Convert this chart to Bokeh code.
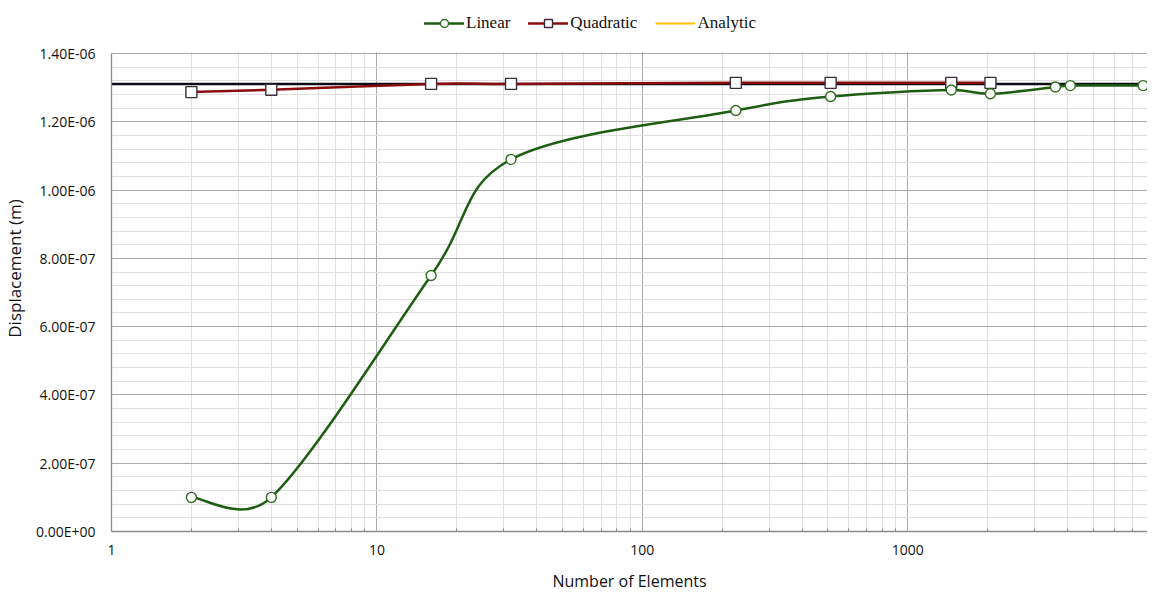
import math
from bokeh.plotting import figure
from bokeh.models import (FixedTicker, CustomJSTickFormatter, Legend, LegendItem,
                          Range1d, ColumnDataSource, BoxAnnotation)
from bokeh.embed import file_html
from bokeh.resources import INLINE

# ---------------- data ----------------
elements = [2, 4, 16, 32, 225, 512, 1458, 2048, 3600, 4096, 7700]
linear = [1.00e-7, 1.00e-7, 7.50e-7, 1.090e-6, 1.233e-6, 1.274e-6,
          1.293e-6, 1.282e-6, 1.302e-6, 1.306e-6, 1.306e-6]
quad_elements = [2, 4, 16, 32, 225, 512, 1458, 2048]
quadratic = [1.287e-6, 1.294e-6, 1.311e-6, 1.311e-6, 1.314e-6, 1.314e-6,
             1.314e-6, 1.314e-6]
analytic_x = [1, 8000]
analytic = [1.311e-6, 1.311e-6]

x_ticks = [1, 10, 100, 1000]
x_minor = [m * d for d in (1, 10, 100, 1000) for m in range(2, 10) if m * d < 8000]
y_ticks = [0, 2e-7, 4e-7, 6e-7, 8e-7, 1.0e-6, 1.2e-6, 1.4e-6]
y_minor = [k * 4e-8 for k in range(0, 36)]

X_RANGE = (1, 8000)
Y_RANGE = (0, 1.4e-6)          # axis extent
FW, FH = 1036, 478             # frame size for the axis extent
TOP_PX = 48                    # extra room above the axis for the legend
Y_TOP = Y_RANGE[1] + TOP_PX * (Y_RANGE[1] - Y_RANGE[0]) / FH


def smooth(xs, ys):
    """Excel-like smoothed line as cubic bezier segments."""
    l0 = math.log10(X_RANGE[0])
    lr = math.log10(X_RANGE[1]) - l0
    sx = [(math.log10(v) - l0) / lr * FW for v in xs]
    sy = [(v - Y_RANGE[0]) / (Y_RANGE[1] - Y_RANGE[0]) * FH for v in ys]
    n = len(xs)

    def tan(i):
        a = max(i - 1, 0)
        b = min(i + 1, n - 1)
        return sx[b] - sx[a], sy[b] - sy[a]

    out = dict(x0=[], y0=[], x1=[], y1=[], cx0=[], cy0=[], cx1=[], cy1=[])

    def back(px, py):
        return 10 ** (l0 + px / FW * lr), Y_RANGE[0] + py / FH * (Y_RANGE[1] - Y_RANGE[0])

    for i in range(n - 1):
        d = math.hypot(sx[i + 1] - sx[i], sy[i + 1] - sy[i])
        tx, ty = tan(i)
        tl = math.hypot(tx, ty)
        arm = min(tl / 6, d / 2)
        c0 = (sx[i] + tx / tl * arm, sy[i] + ty / tl * arm)
        tx, ty = tan(i + 1)
        tl = math.hypot(tx, ty)
        arm = min(tl / 6, d / 2)
        c1 = (sx[i + 1] - tx / tl * arm, sy[i + 1] - ty / tl * arm)
        a = back(sx[i], sy[i])
        b = back(sx[i + 1], sy[i + 1])
        ca = back(*c0)
        cb = back(*c1)
        out["x0"].append(a[0]); out["y0"].append(a[1])
        out["x1"].append(b[0]); out["y1"].append(b[1])
        out["cx0"].append(ca[0]); out["cy0"].append(ca[1])
        out["cx1"].append(cb[0]); out["cy1"].append(cb[1])
    return ColumnDataSource(out)


p = figure(x_axis_type="log",
           x_range=Range1d(*X_RANGE), y_range=Range1d(Y_RANGE[0], Y_TOP),
           output_backend="svg", toolbar_location=None,
           frame_width=FW, frame_height=FH + TOP_PX,
           min_border_left=104, min_border_right=0,
           min_border_top=5, min_border_bottom=56)
p.outline_line_color = None
p.background_fill_color = "white"

# axes
p.xaxis.ticker = FixedTicker(ticks=x_ticks, minor_ticks=x_minor)
p.yaxis.ticker = FixedTicker(ticks=y_ticks, minor_ticks=y_minor)
p.yaxis.bounds = Y_RANGE
p.xaxis.major_label_overrides = {1: "1", 10: "10", 100: "100", 1000: "1000"}
p.yaxis.formatter = CustomJSTickFormatter(code="""
const s = tick.toExponential(2).toUpperCase();
const parts = s.split("E");
const sign = parts[1][0];
let d = parts[1].slice(1);
if (d.length < 2) d = "0" + d;
return parts[0] + "E" + sign + d;
""")
for ax in (p.xaxis, p.yaxis):
    ax.axis_line_color = "#8c8c8c"
    ax.axis_line_width = 1.3
    ax.major_tick_line_color = None
    ax.major_label_text_font = "Open Sans"
    ax.major_label_text_font_size = "14px"
    ax.major_label_text_color = "#111111"
    ax.axis_label_text_font = "Open Sans"
    ax.axis_label_text_font_style = "normal"
    ax.axis_label_text_color = "#111111"
p.xaxis.axis_label_text_font_size = "16px"
p.yaxis.axis_label_text_font_size = "17px"
p.yaxis.minor_tick_line_color = None
p.xaxis.minor_tick_line_color = "#8c8c8c"
p.xaxis.minor_tick_in = 3
p.xaxis.minor_tick_out = 0
p.xaxis.major_label_standoff = 7
p.yaxis.major_label_standoff = 10
p.xaxis.axis_label = "Number of Elements"
p.yaxis.axis_label = "Displacement (m)"
p.xaxis.axis_label_standoff = 12
p.yaxis.axis_label_standoff = 7

# grids
for g in (p.xgrid, p.ygrid):
    g.grid_line_color = "#aaaaaa"
    g.grid_line_width = 1
    g.minor_grid_line_color = "#e0e0e0"
    g.minor_grid_line_width = 1

# blank area above the axis extent (room for the legend)
p.add_layout(BoxAnnotation(bottom=Y_RANGE[1] + 1.2 * (Y_TOP - Y_RANGE[1]) / TOP_PX,
                           fill_color="white", fill_alpha=1.0,
                           line_color=None, level="glyph"))

# analytic
r_an_leg = p.line(analytic_x, analytic, line_color="#ffc000", line_width=2)
p.line(analytic_x, analytic, line_color="#0d0d1a", line_width=2.5)

# quadratic
r_q_line = p.bezier(x0="x0", y0="y0", x1="x1", y1="y1", cx0="cx0", cy0="cy0",
                    cx1="cx1", cy1="cy1", source=smooth(quad_elements, quadratic),
                    line_color="#8a0c0c", line_width=2.5, line_cap="round")
r_q_pts = p.scatter(quad_elements, quadratic, marker="square", size=11,
                    fill_color="white", line_color="#3c2c3c", line_width=1.4)

# linear
r_l_line = p.bezier(x0="x0", y0="y0", x1="x1", y1="y1", cx0="cx0", cy0="cy0",
                    cx1="cx1", cy1="cy1", source=smooth(elements, linear),
                    line_color="#1d5e12", line_width=2.5, line_cap="round")
r_l_pts = p.scatter(elements, linear, marker="circle", size=10,
                    fill_color="white", line_color="#2f6e1c", line_width=1.4)

legend = Legend(items=[
    LegendItem(label="Linear", renderers=[r_l_line, r_l_pts]),
    LegendItem(label="Quadratic", renderers=[r_q_line, r_q_pts]),
    LegendItem(label="Analytic", renderers=[r_an_leg]),
], orientation="horizontal", location=(313, FH + TOP_PX - 28))
legend.label_text_font = "Liberation Serif"
legend.label_text_font_size = "17px"
legend.label_text_color = "#111111"
legend.glyph_width = 40
legend.label_standoff = 2
legend.spacing = 18
legend.padding = 5
legend.margin = 0
legend.border_line_color = None
legend.background_fill_alpha = 0
p.add_layout(legend, "center")

open("out.html", "w").write(file_html(p, INLINE))
